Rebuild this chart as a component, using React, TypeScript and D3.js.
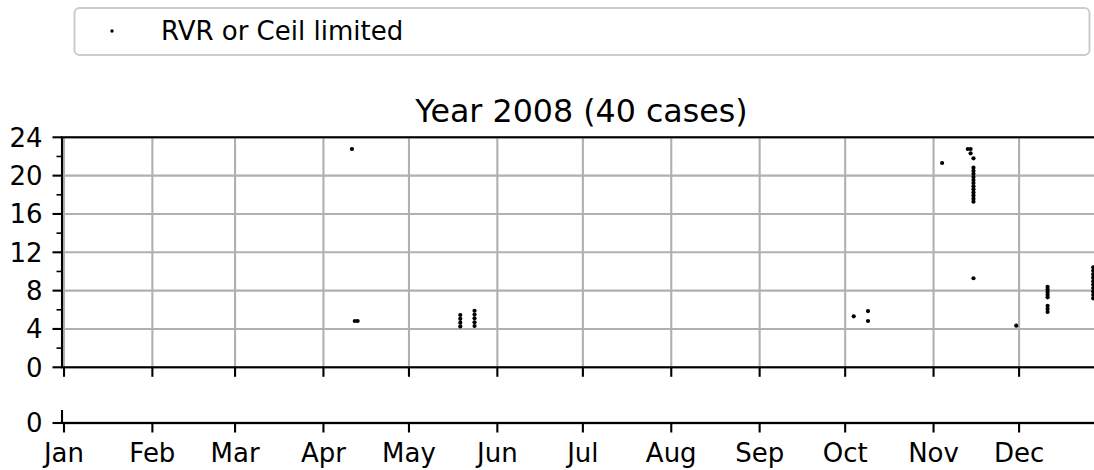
import React from "react";
import * as d3 from "d3";

const monthLabels = ["Jan", "Feb", "Mar", "Apr", "May", "Jun", "Jul", "Aug", "Sep", "Oct", "Nov", "Dec"];
const yTicks = [0, 4, 8, 12, 16, 20, 24];
const yMinorTicks = [2, 6, 10, 14, 18, 22];
const lowerYTicks = [0];

const pointDates = [
  "2008-04-11", "2008-04-12", "2008-04-13",
  "2008-05-19", "2008-05-19", "2008-05-19", "2008-05-19",
  "2008-05-24", "2008-05-24", "2008-05-24", "2008-05-24", "2008-05-24",
  "2008-10-04", "2008-10-09", "2008-10-09",
  "2008-11-04", "2008-11-13", "2008-11-14", "2008-11-14",
  "2008-11-15", "2008-11-15", "2008-11-15", "2008-11-15", "2008-11-15", "2008-11-15", "2008-11-15",
  "2008-11-15", "2008-11-15", "2008-11-15", "2008-11-15", "2008-11-15", "2008-11-15", "2008-11-15",
  "2008-11-30",
  "2008-12-11", "2008-12-11", "2008-12-11", "2008-12-11", "2008-12-11", "2008-12-11", "2008-12-11", "2008-12-11",
  "2008-12-27", "2008-12-27", "2008-12-27", "2008-12-27", "2008-12-27", "2008-12-27", "2008-12-27", "2008-12-27",
  "2008-12-27", "2008-12-27",
];
const pointHours = [
  22.78, 4.83, 4.83,
  5.46, 5.06, 4.66, 4.27,
  5.9, 5.51, 5.11, 4.7, 4.31,
  5.32, 5.87, 4.83,
  21.32, 22.78, 22.78, 22.33,
  21.81, 20.83, 20.51, 20.19, 19.86, 19.54, 19.22,
  18.89, 18.57, 18.25, 17.93, 17.6, 17.28, 9.29,
  4.34,
  8.4, 8.13, 7.85, 7.58, 7.3, 6.4, 6.08, 5.77,
  10.43, 10.07, 9.71, 9.35, 8.99, 8.63, 8.27, 7.91,
  7.55, 7.2,
];

const titleText = "Year 2008 (40 cases)";
const legendLabel = "RVR or Ceil limited";

const W = 1094;
const H = 470;
const FONT = "'DejaVu Sans', sans-serif";
const LW = 2.1;
const GRID = "#b0b0b0";

export default function App() {
  const parse = d3.timeParse("%Y-%m-%d");
  const pxPerDay = 2.851;
  const x = d3
    .scaleTime()
    .domain([new Date(2008, 0, 1), new Date(2009, 0, 1)])
    .range([64, 64 + 366 * pxPerDay]);
  const axLeft = 62;
  const axRight = 1101;
  const axTop = 137.3;
  const axBottom = 367.3;
  const y = d3.scaleLinear().domain([0, 24]).range([axBottom, axTop]);

  const lowTop = 410;
  const lowBottom = 423;
  const yLow = d3.scaleLinear().domain([0, 1]).range([lowBottom, lowTop]);

  const months = d3.timeMonth.range(new Date(2008, 0, 1), new Date(2009, 0, 1));

  const points = pointDates.map((d, i) => ({ date: parse(d) as Date, h: pointHours[i] }));

  return (
    <svg
      width={W}
      height={H}
      style={{ position: "absolute", left: 0, top: 0, background: "#fff" }}
      fontFamily={FONT}
    >
      <rect x={0} y={0} width={W} height={H} fill="#fff" />

      {/* Legend */}
      <rect x={74.5} y={8} width={1015} height={47} rx={5} ry={5} fill="#fff" stroke="#cccccc" strokeWidth={2} />
      <circle cx={112} cy={31} r={1.7} fill="#000" />
      <text x={161} y={39.5} fontSize={26} fill="#000">{legendLabel}</text>

      {/* Title */}
      <text x={(axLeft + axRight) / 2} y={122} fontSize={31.7} textAnchor="middle" fill="#000">{titleText}</text>

      {/* Main axes grid */}
      <g>
        {months.map((m, i) => (
          <line key={"vg" + i} x1={x(m)} x2={x(m)} y1={axTop} y2={axBottom} stroke={GRID} strokeWidth={LW} />
        ))}
        {yTicks.map((t) => (
          <line key={"hg" + t} x1={axLeft} x2={axRight} y1={y(t)} y2={y(t)} stroke={GRID} strokeWidth={LW} />
        ))}
      </g>

      {/* Points */}
      <g>
        {points.map((p, i) => (
          <circle key={"p" + i} cx={x(p.date)} cy={y(p.h)} r={2.1} fill="#000" />
        ))}
      </g>

      {/* Main spines */}
      <rect x={axLeft} y={axTop} width={axRight - axLeft} height={axBottom - axTop} fill="none" stroke="#000" strokeWidth={LW} />

      {/* Main y ticks */}
      {yTicks.map((t) => (
        <g key={"yt" + t}>
          <line x1={axLeft - 9.5} x2={axLeft} y1={y(t)} y2={y(t)} stroke="#000" strokeWidth={LW} />
          <text x={axLeft - 19.5} y={y(t)} dy="0.36em" fontSize={26} textAnchor="end" fill="#000">{t}</text>
        </g>
      ))}
      {yMinorTicks.map((t) => (
        <line key={"ym" + t} x1={axLeft - 5.5} x2={axLeft} y1={y(t)} y2={y(t)} stroke="#000" strokeWidth={1.6} />
      ))}
      {/* Main x ticks */}
      {months.map((m, i) => (
        <line key={"xt" + i} x1={x(m)} x2={x(m)} y1={axBottom} y2={axBottom + 9.5} stroke="#000" strokeWidth={LW} />
      ))}

      {/* Lower axes */}
      <line x1={axLeft} x2={axRight} y1={lowBottom} y2={lowBottom} stroke={GRID} strokeWidth={LW + 1} />
      <line x1={axLeft} x2={axRight} y1={lowBottom} y2={lowBottom} stroke="#000" strokeWidth={LW} />
      <line x1={axLeft} x2={axLeft} y1={lowTop} y2={lowBottom} stroke="#000" strokeWidth={LW} />
      {lowerYTicks.map((t) => (
        <g key={"ly" + t}>
          <line x1={axLeft - 9.5} x2={axLeft} y1={yLow(t)} y2={yLow(t)} stroke="#000" strokeWidth={LW} />
          <text x={axLeft - 19.5} y={yLow(t)} dy="0.36em" fontSize={26} textAnchor="end" fill="#000">{t}</text>
        </g>
      ))}
      {months.map((m, i) => (
        <g key={"lx" + i}>
          <line x1={x(m)} x2={x(m)} y1={lowBottom} y2={lowBottom + 9.5} stroke="#000" strokeWidth={LW} />
          <text x={x(m)} y={462} fontSize={26} textAnchor="middle" fill="#000">{monthLabels[m.getMonth()]}</text>
        </g>
      ))}
    </svg>
  );
}
